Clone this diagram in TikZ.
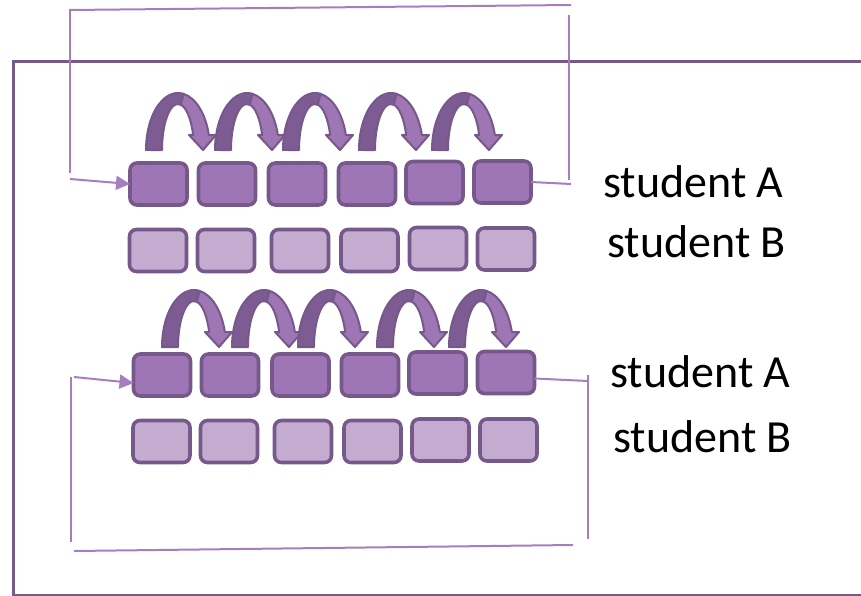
\documentclass[tikz,border=0pt]{standalone}
\usepackage{fontspec}
\setmainfont{Carlito}
\usetikzlibrary{arrows.meta}
\definecolor{dpurple}{RGB}{118,88,138}
\definecolor{fillA}{RGB}{159,118,181}
\definecolor{fillB}{RGB}{196,172,209}
\definecolor{lpurple}{RGB}{166,126,192}
\definecolor{arrdark}{RGB}{124,92,146}
\definecolor{arrlight}{RGB}{158,118,180}
\newcommand{\jumparrow}[2]{%
  \begin{scope}[shift={(#1,#2)}]
    \filldraw[fill=arrdark, draw=dpurple, line width=2pt, line join=round]
      (0,0) arc[start angle=180, end angle=80, x radius=32, y radius=57]
      -- (34.78,45.30) arc[start angle=80, end angle=180, x radius=16, y radius=46] -- cycle;
    \filldraw[fill=arrlight, draw=dpurple, line width=2pt, line join=round]
      (37.56,56.13) arc[start angle=80, end angle=15.25, x radius=32, y radius=57]
      -- (70,15) -- (57,0) -- (43,15) -- (47.13,15)
      arc[start angle=19.03, end angle=80, x radius=16, y radius=46] -- cycle;
  \end{scope}}
\begin{document}
\begin{tikzpicture}[x=1pt,y=1pt,
  box/.style={rounded corners=7pt, line width=3.6pt, draw=dpurple, minimum width=57pt, minimum height=42pt, inner sep=0pt, outer sep=0pt},
  boxa/.style={box, fill=fillA},
  boxb/.style={box, fill=fillB},
  loopline/.style={draw=lpurple, line width=2pt},
  looparrow/.style={loopline, -{Triangle[length=14pt,width=14pt]}},
  frameline/.style={draw=dpurple, line width=3pt},
  lbl/.style={font=\fontsize{46}{55}\selectfont, anchor=base west, inner sep=0pt}]
\useasboundingbox (0,0) rectangle (861,-596);
% frame
\draw[frameline] (861,-62) -- (13,-62) -- (13,-595) -- (861,-595);
% upper boxes
\node[boxa] (a1) at (158.5,-184) {};
\node[boxa] (a2) at (227,-184) {};
\node[boxa] (a3) at (297,-184) {};
\node[boxa] (a4) at (367,-184) {};
\node[boxa] (a5) at (434.5,-182.5) {};
\node[boxa] (a6) at (502.5,-182) {};
\node[boxb] (b1) at (158,-250.5) {};
\node[boxb] (b2) at (226,-250.5) {};
\node[boxb] (b3) at (300,-250.5) {};
\node[boxb] (b4) at (369.5,-250.5) {};
\node[boxb] (b5) at (438,-248.5) {};
\node[boxb] (b6) at (506,-249) {};
% lower boxes
\node[boxa] (c1) at (162,-375) {};
\node[boxa] (c2) at (230,-375) {};
\node[boxa] (c3) at (300.5,-375) {};
\node[boxa] (c4) at (370,-375) {};
\node[boxa] (c5) at (437.5,-373) {};
\node[boxa] (c6) at (506,-372.5) {};
\node[boxb] (d1) at (161.5,-441.5) {};
\node[boxb] (d2) at (229,-441.5) {};
\node[boxb] (d3) at (303,-441.5) {};
\node[boxb] (d4) at (372.5,-441.5) {};
\node[boxb] (d5) at (440.5,-440) {};
\node[boxb] (d6) at (508.5,-440) {};
% jump arrows
\jumparrow{146}{-150}
\jumparrow{215}{-150}
\jumparrow{283}{-150}
\jumparrow{359}{-150}
\jumparrow{432}{-150}
\jumparrow{162}{-347}
\jumparrow{232}{-347}
\jumparrow{298}{-347}
\jumparrow{377}{-347}
\jumparrow{449}{-347}
% upper loop
\coordinate (u1) at (70,-9);
\coordinate (u2) at (70,-173);
\coordinate (u3) at (70,-10);
\coordinate (u4) at (571,-5);
\coordinate (u5) at (569,-15);
\coordinate (u6) at (569,-180);
\coordinate (u7) at (571,-184);
\coordinate (u8) at (70,-179);
\draw[loopline] (u1) -- (u2);
\draw[loopline] (u3) -- (u4);
\draw[loopline] (u5) -- (u6);
\draw[loopline] (a6.east) -- (u7);
\draw[looparrow] (u8) -- (a1.west);
% lower loop
\coordinate (l1) at (71,-377);
\coordinate (l2) at (71,-542);
\coordinate (l3) at (74,-551);
\coordinate (l4) at (573,-545);
\coordinate (l5) at (588,-375);
\coordinate (l6) at (588,-539);
\coordinate (l7) at (588,-381);
\coordinate (l8) at (74,-377);
\draw[loopline] (l1) -- (l2);
\draw[loopline] (l3) -- (l4);
\draw[loopline] (l5) -- (l6);
\draw[loopline] ([yshift=-6pt]c6.east) -- (l7);
\draw[looparrow] (l8) -- ([yshift=-8pt]c1.west);
% labels
\node[lbl] (sa1) at (603,-197) {student A};
\node[lbl] (sb1) at (607,-257) {student B};
\node[lbl] (sa2) at (610,-387) {student A};
\node[lbl] (sb2) at (613,-452) {student B};
\end{tikzpicture}
\end{document}
